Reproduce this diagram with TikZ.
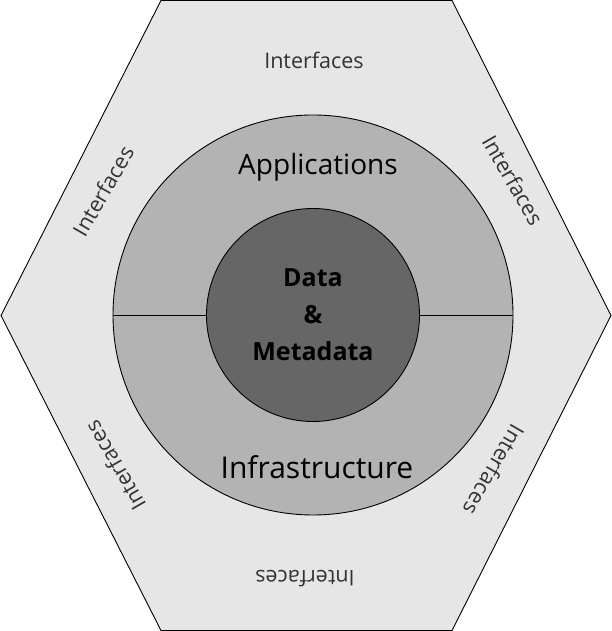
\documentclass[tikz,border=0pt]{standalone}
\usepackage{fontspec}
\setmainfont{Open Sans}
\definecolor{hexgray}{HTML}{E6E6E6}
\definecolor{ringgray}{HTML}{B3B3B3}
\definecolor{coregray}{HTML}{666666}
\definecolor{ifacetext}{HTML}{333333}

\begin{document}
\begin{tikzpicture}[x=1pt, y=1pt,
  ring/.style = {draw, circle, fill=ringgray, minimum size=400pt, inner sep=0pt, line width=0.9pt},
  core/.style = {draw, circle, fill=coregray, minimum size=213pt, inner sep=0pt, line width=0.9pt},
  iface/.style = {text=ifacetext, font=\fontsize{21.5}{24}\selectfont, inner sep=0pt},
  layer/.style = {font=\fontsize{28}{30}\selectfont, inner sep=0pt}]

\useasboundingbox (0, 0) rectangle (612, 631);

\coordinate (H1) at (161, 630.5);
\coordinate (H2) at (452, 630.5);
\coordinate (H3) at (611, 315.5);
\coordinate (H4) at (452, 0.5);
\coordinate (H5) at (161, 0.5);
\coordinate (H6) at (1, 315.5);

\draw[draw=black, fill=hexgray, line width=0.9pt] (H1) -- (H2) -- (H3) -- (H4) -- (H5) -- (H6) -- cycle;

\node[ring] (outer) at (313, 316) {};
\node[core] (inner) at (313, 316) {};

\draw[line width=0.9pt] (outer.west) -- (inner.west);
\draw[line width=0.9pt] (inner.east) -- (outer.east);

\node[layer] (apps) at (318, 464) {Applications};
\node[layer, font=\fontsize{30}{32}\selectfont] (infra) at (317, 164) {Infrastructure};
\node[align=center, font=\bfseries\fontsize{25}{37}\selectfont] (data) at (313, 316) {Data\\\&\\Metadata};

\node[iface] (I1) at (314, 571) {Interfaces};
\node[iface, rotate=-60] (I2) at (513, 451) {Interfaces};
\node[iface, rotate=-120] (I3) at (494, 161) {Interfaces};
\node[iface, rotate=180] (I4) at (305, 52) {Interfaces};
\node[iface, rotate=120] (I5) at (115, 165) {Interfaces};
\node[iface, rotate=60] (I6) at (103, 440) {Interfaces};

\end{tikzpicture}
\end{document}
